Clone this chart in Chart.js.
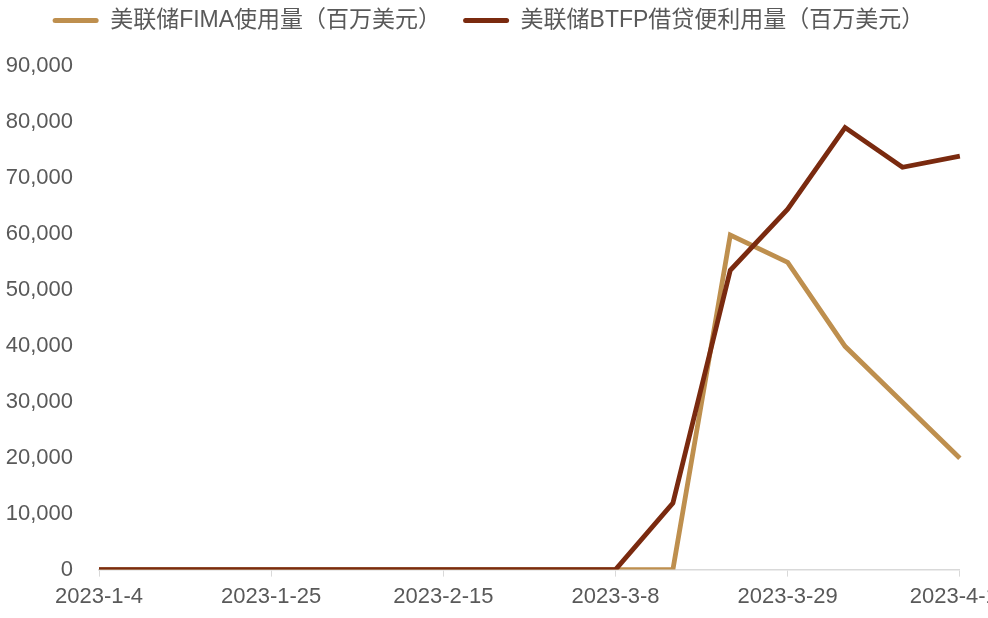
<!DOCTYPE html>
<html>
<head>
<meta charset="utf-8">
<script src="https://cdn.jsdelivr.net/npm/chart.js@4"></script>
<style>
  html, body { margin: 0; padding: 0; background: #fff; overflow: hidden; }
  #wrap { width: 1017px; height: 618px; position: relative; }
</style>
</head>
<body>
<div id="wrap"><canvas id="fedChart"></canvas></div>
<script>
// weekly observations, Wednesdays
const dates = ['2023-1-4', '2023-1-11', '2023-1-18', '2023-1-25', '2023-2-1', '2023-2-8',
  '2023-2-15', '2023-2-22', '2023-3-1', '2023-3-8', '2023-3-15', '2023-3-22',
  '2023-3-29', '2023-4-5', '2023-4-12', '2023-4-19'];
const fimaUsage = [0, 0, 0, 0, 0, 0, 0, 0, 0, 0, 0, 59800, 54900, 39900, 29900, 19900];
const btfpUsage = [0, 0, 0, 0, 0, 0, 0, 0, 0, 0, 11900, 53500, 64400, 79000, 71900, 73900];
const seriesNames = ['美联储FIMA使用量（百万美元）', '美联储BTFP借贷便利用量（百万美元）'];
const yTicks = [0, 10000, 20000, 30000, 40000, 50000, 60000, 70000, 80000, 90000];

const FONT = 'Arial, "Liberation Sans", "Noto Sans CJK SC", sans-serif';
const GREY = '#595959';

// move the legend up and a little to the left, as in the source
const legendShift = {
  id: 'legendShift',
  afterLayout(chart) {
    const lg = chart.legend;
    lg.left -= 20;
    lg.right -= 20;
    lg.top -= 24;
    lg.bottom -= 24;
  }
};

function renderChart() {
  const ctx = document.getElementById('fedChart');
  new Chart(ctx, {
    type: 'line',
    data: {
      labels: dates,
      datasets: [
        // BTFP drawn on top of FIMA (lower order = drawn later)
        { label: seriesNames[0], data: fimaUsage, borderColor: '#BE8F4E', backgroundColor: '#BE8F4E', borderWidth: 4.8, pointRadius: 0, tension: 0, order: 2 },
        { label: seriesNames[1], data: btfpUsage, borderColor: '#7A2A0F', backgroundColor: '#7A2A0F', borderWidth: 4.8, pointRadius: 0, tension: 0, order: 1 }
      ]
    },
    options: {
      responsive: true,
      maintainAspectRatio: false,
      animation: false,
      layout: { padding: { top: 11, left: 0, right: 0, bottom: 1 } },
      plugins: {
        tooltip: { enabled: false },
        legend: {
          position: 'top',
          labels: {
            font: { family: FONT, size: 23 },
            color: GREY,
            boxWidth: 46,
            boxHeight: 5,
            padding: 22,
            useBorderRadius: true,
            borderRadius: 2.5,
            generateLabels(chart) {
              return chart.data.datasets.map((ds, i) => ({
                text: ds.label, fillStyle: ds.borderColor, strokeStyle: ds.borderColor,
                lineWidth: 0, fontColor: GREY, datasetIndex: i, borderRadius: 2.5
              }));
            }
          }
        }
      },
      scales: {
        x: {
          grid: {
            display: true, drawOnChartArea: false, drawTicks: true, tickLength: 7,
            color: c => (c.index % 3 === 0 ? '#d9d9d9' : 'rgba(0,0,0,0)')
          },
          border: { display: true, color: '#d9d9d9', width: 1.5 },
          ticks: {
            autoSkip: false, maxRotation: 0, padding: 7, color: GREY,
            font: { family: FONT, size: 22 },
            callback: (v, i) => (i % 3 === 0 ? dates[i] : '')
          }
        },
        y: {
          min: 0, max: 90000,
          afterBuildTicks: axis => { axis.ticks = yTicks.map(v => ({ value: v })); },
          afterFit: axis => { axis.width = 99; },
          grid: { display: false },
          border: { display: false },
          ticks: {
            padding: 18, color: GREY,
            font: { family: FONT, size: 22 },
            callback: v => v.toLocaleString('en-US')
          }
        }
      }
    },
    plugins: [legendShift]
  });
}

window.addEventListener('DOMContentLoaded', renderChart);
</script>
</body>
</html>
